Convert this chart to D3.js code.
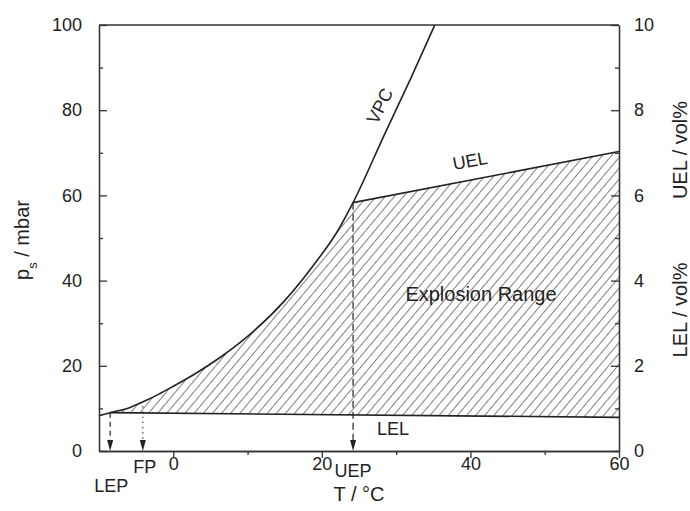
<!DOCTYPE html>
<html>
<head>
<meta charset="utf-8">
<script src="https://cdn.jsdelivr.net/npm/d3@7"></script>
<style>
  body { margin: 0; background: #fff; }
  text { font-family: "Liberation Sans", Arial, sans-serif; fill: #222; }
</style>
</head>
<body>
<svg id="chart" width="690" height="511"></svg>
<script>
// vapour pressure curve
const vpcT = [-10, -8.5, -6, -4, -2, 0, 3, 6, 10, 15, 19, 22, 24.2, 28.3, 32, 35.2];
const vpcP = [8.3, 9.0, 10.1, 11.6, 13.3, 15.2, 18.2, 21.6, 26.9, 35.3, 43.9, 51.3, 58.3, 73.8, 87.6, 100];

// explosion limits (mbar)
const lelT = [-8.5, 60];
const lelP = [9.0, 7.9];
const uelT = [24.2, 60];
const uelP = [58.3, 70.3];

// characteristic points
const markerNames = ["LEP", "FP", "UEP"];
const markerT = [-8.5, -4.1, 24.2];
const markerTop = [9.0, 10.5, 58.3];

const xTicks = [0, 20, 40, 60];
const xMinor = [10, 30, 50];
const yTicks = [0, 20, 40, 60, 80, 100];
const yMinor = [10, 30, 50, 70, 90];
const rTicks = [0, 2, 4, 6, 8, 10];
const rMinor = [1, 3, 5, 7, 9];

const margin = {left: 99, right: 71, top: 25, bottom: 60};
const width = 690 - margin.left - margin.right;
const height = 511 - margin.top - margin.bottom;

const svg = d3.select("#chart");
const g = svg.append("g").attr("transform", `translate(${margin.left},${margin.top})`);

const x = d3.scaleLinear().domain([-10, 60]).range([0, width]);
const y = d3.scaleLinear().domain([0, 100]).range([height, 0]);
const yR = d3.scaleLinear().domain([0, 10]).range([height, 0]);

const vpc = vpcT.map((t, i) => [t, vpcP[i]]);

// hatch pattern
const defs = svg.append("defs");
defs.append("pattern")
    .attr("id", "hatch")
    .attr("patternUnits", "userSpaceOnUse")
    .attr("width", 7).attr("height", 7)
    .attr("patternTransform", "rotate(40)")
    .append("line")
    .attr("x1", 0).attr("y1", -1).attr("x2", 0).attr("y2", 8)
    .attr("stroke", "#3a3a3a").attr("stroke-width", 1.3);

// clip: below the vapour pressure curve, or right of UEP
const clip = defs.append("clipPath").attr("id", "belowVpc");
clip.append("path")
    .attr("d", d3.area().x(d => x(d[0])).y0(y(0)).y1(d => y(d[1])).curve(d3.curveMonotoneX)(vpc));
clip.append("rect")
    .attr("x", x(uelT[0])).attr("y", 0)
    .attr("width", x(60) - x(uelT[0])).attr("height", height);

const region = [
    [lelT[0], lelP[0]],
    [lelT[0], uelP[0]],
    [uelT[0], uelP[0]],
    [uelT[1], uelP[1]],
    [lelT[1], lelP[1]]
];
g.append("path")
    .attr("d", d3.line().x(d => x(d[0])).y(d => y(d[1]))(region) + "Z")
    .attr("fill", "url(#hatch)")
    .attr("clip-path", "url(#belowVpc)");

// lines
g.append("path")
    .attr("d", d3.line().x(d => x(d[0])).y(d => y(d[1])).curve(d3.curveMonotoneX)(vpc))
    .attr("fill", "none").attr("stroke", "#222").attr("stroke-width", 1.6);

g.append("line")
    .attr("x1", x(lelT[0])).attr("y1", y(lelP[0]))
    .attr("x2", x(lelT[1])).attr("y2", y(lelP[1]))
    .attr("stroke", "#222").attr("stroke-width", 1.6);

g.append("line")
    .attr("x1", x(uelT[0])).attr("y1", y(uelP[0]))
    .attr("x2", x(uelT[1])).attr("y2", y(uelP[1]))
    .attr("stroke", "#222").attr("stroke-width", 1.6);

// marker drop lines with arrows
const dashes = ["5,4", "1.2,4", "7,4"];
markerT.forEach((t, i) => {
    const px = x(t);
    g.append("line")
        .attr("x1", px).attr("y1", y(markerTop[i]))
        .attr("x2", px).attr("y2", y(0) - 10)
        .attr("stroke", "#222").attr("stroke-width", 1.2)
        .attr("stroke-dasharray", dashes[i]);
    g.append("path")
        .attr("d", `M${px - 3},${y(0) - 11}L${px + 3},${y(0) - 11}L${px},${y(0)}Z`)
        .attr("fill", "#222");
});

// axes
const axisStyle = sel => {
    sel.selectAll("path, line").attr("stroke", "#333").attr("stroke-width", 1.3);
    sel.selectAll("text").style("font-size", "18px").attr("fill", "#222")
        .style("font-family", "'Liberation Sans', Arial, sans-serif");
};

g.append("g").attr("transform", `translate(0,${height})`)
    .call(d3.axisBottom(x).tickValues(xTicks).tickSize(7).tickSizeOuter(0).tickPadding(-1))
    .call(axisStyle);
g.append("g").attr("transform", `translate(0,${height})`)
    .call(d3.axisBottom(x).tickValues(xMinor).tickSize(4).tickSizeOuter(0).tickFormat(""))
    .call(axisStyle);

g.append("g")
    .call(d3.axisLeft(y).tickValues(yTicks).tickSize(-8).tickSizeOuter(0).tickPadding(17))
    .call(axisStyle);
g.append("g")
    .call(d3.axisLeft(y).tickValues(yMinor).tickSize(-4).tickSizeOuter(0).tickFormat(""))
    .call(axisStyle);

g.append("g").attr("transform", `translate(${width},0)`)
    .call(d3.axisRight(yR).tickValues(rTicks).tickSize(-8).tickSizeOuter(0).tickPadding(15))
    .call(axisStyle);
g.append("g").attr("transform", `translate(${width},0)`)
    .call(d3.axisRight(yR).tickValues(rMinor).tickSize(-4).tickSizeOuter(0).tickFormat(""))
    .call(axisStyle);

// top frame line
g.append("line")
    .attr("x1", 0).attr("x2", width).attr("y1", 0).attr("y2", 0)
    .attr("stroke", "#333").attr("stroke-width", 1.3);

// axis titles
svg.append("text")
    .attr("x", margin.left + width / 2).attr("y", 501)
    .attr("text-anchor", "middle").style("font-size", "20px")
    .text("T / °C");

const yTitle = svg.append("text")
    .attr("transform", "translate(29,240) rotate(-90)")
    .attr("text-anchor", "middle").style("font-size", "20px");
yTitle.append("tspan").text("p");
yTitle.append("tspan").attr("baseline-shift", "sub").style("font-size", "13px").text("s");
yTitle.append("tspan").text(" / mbar");

svg.append("text")
    .attr("transform", "translate(687,150) rotate(-90)")
    .attr("text-anchor", "middle").style("font-size", "20px")
    .text("UEL / vol%");
svg.append("text")
    .attr("transform", "translate(687,310) rotate(-90)")
    .attr("text-anchor", "middle").style("font-size", "20px")
    .text("LEL / vol%");

// curve labels
g.append("text")
    .attr("transform", `translate(${380 - margin.left},${106 - margin.top}) rotate(-63)`)
    .attr("text-anchor", "middle").attr("dominant-baseline", "central")
    .style("font-size", "18px").text("VPC");
g.append("text")
    .attr("transform", `translate(${470 - margin.left},${161 - margin.top}) rotate(-10.5)`)
    .attr("text-anchor", "middle").attr("dominant-baseline", "central")
    .style("font-size", "18px").text("UEL");
g.append("text")
    .attr("x", 393 - margin.left).attr("y", 429 - margin.top)
    .attr("text-anchor", "middle").attr("dominant-baseline", "central")
    .style("font-size", "18px").text("LEL");
g.append("text")
    .attr("x", 481 - margin.left).attr("y", 294 - margin.top)
    .attr("text-anchor", "middle").attr("dominant-baseline", "central")
    .style("font-size", "20px").text("Explosion Range");

// point labels
const labelDx = [1, 2, 0];
const labelBase = [492, 473, 477];
markerNames.forEach((n, i) => {
    g.append("text")
        .attr("x", x(markerT[i]) + labelDx[i])
        .attr("y", labelBase[i] - margin.top)
        .attr("text-anchor", "middle")
        .style("font-size", "18px").text(n);
});
</script>
</body>
</html>
